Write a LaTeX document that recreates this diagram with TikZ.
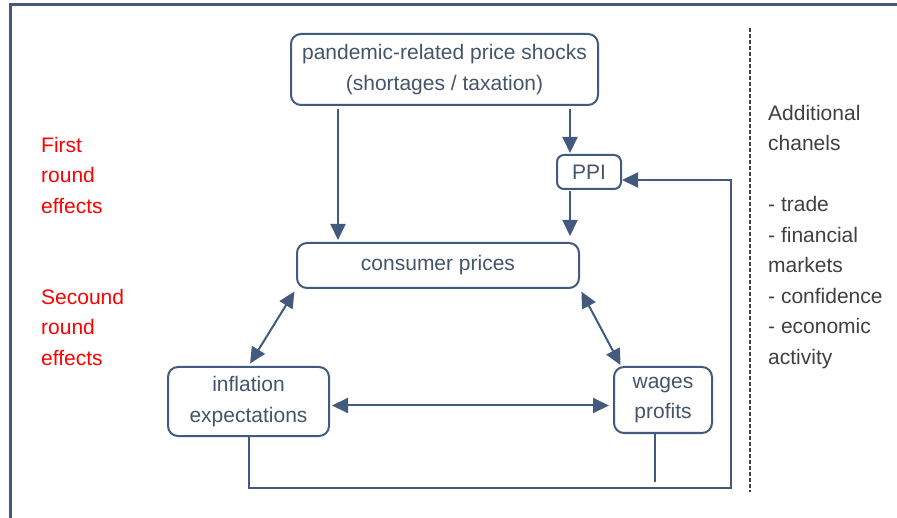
\documentclass[tikz,border=0pt]{standalone}
\usepackage{fontspec}
\setmainfont{Liberation Sans}
\usepackage{xcolor}
\usetikzlibrary{positioning,calc,arrows.meta}
\definecolor{edgeblue}{HTML}{415A7D}
\definecolor{textblue}{HTML}{44546A}
\definecolor{notegray}{HTML}{404040}
\tikzset{
  block/.style={draw=edgeblue, line width=2pt, rounded corners=10pt, text=textblue, align=center, inner sep=0pt},
  link/.style={draw=edgeblue, line width=2pt, -{Triangle[length=16pt,width=15pt]}},
  twoway/.style={link, {Triangle[length=16pt,width=15pt]}-{Triangle[length=16pt,width=15pt]}},
  note/.style={align=left, anchor=west, inner sep=0pt}
}
\begin{document}
\begin{tikzpicture}[x=1pt, y=-1pt, font=\fontsize{21}{30.5}\selectfont]
    \useasboundingbox (0,0) rectangle (897,518);
    % Frame
    \draw[edgeblue, line width=3pt] (10,530) -- (10,5) -- (910,5);

    % Boxes
    \node[block, minimum width=307pt, minimum height=71pt] (shock) at (444.5,69.5) {pandemic-related price shocks\\(shortages / taxation)};
    \node[block, minimum width=64pt, minimum height=34pt, rounded corners=7pt] (ppi) at (589,172) {PPI};
    \node[block, minimum width=282pt, minimum height=45pt] (cons) at (438,265.5) {consumer prices};
    \node[block, minimum width=161pt, minimum height=69pt] (infl) at (248.5,401.5) {inflation\\expectations};
    \node[block, minimum width=98pt, minimum height=66pt] (wages) at (663,400) {wages\\profits};

    % Labels
    \node[note, text=red] (first) at (41,175) {First\\round\\effects};
    \node[note, text=red] (second) at (41,327) {Secound\\round\\effects};
    \node[note, text=notegray] (extra) at (768,237) {Additional\\chanels\\[30.5pt]- trade\\- financial\\markets\\- confidence\\- economic\\activity};

    % Separator
    \draw[notegray, line width=1.5pt, dash pattern=on 4pt off 2pt] (750,28) -- (750,492);

    % First round
    \coordinate (c1) at (338,0);
    \coordinate (c2) at (570,0);
    \draw[link, shorten <=3pt, shorten >=2pt] (shock.south -| c1) -- (cons.north -| c1);
    \draw[link, shorten <=3pt, shorten >=1pt] (shock.south -| c2) -- (ppi.north -| c2);
    \draw[link, shorten <=1pt, shorten >=6pt] (ppi.south -| c2) -- (cons.north -| c2);

    % Second round
    \draw[twoway, shorten <=3pt, shorten >=3pt] (cons.south west) -- (infl.north);
    \draw[twoway, shorten <=3pt, shorten >=1pt] (cons.south east) -- ([xshift=8pt]wages.north west);
    \draw[twoway, shorten <=2pt, shorten >=4pt] ([yshift=-4pt]infl.east) -- ([yshift=-4pt]infl.east -| wages.west);

    % Feedback to PPI
    \coordinate (fb) at (731,488);
    \coordinate (w) at (655,482);
    \draw[link] (infl.south) |- (fb) |- ([yshift=-8pt]ppi.east);
    \draw[edgeblue, line width=2pt] (wages.south -| w) -- (w);
\end{tikzpicture}
\end{document}
